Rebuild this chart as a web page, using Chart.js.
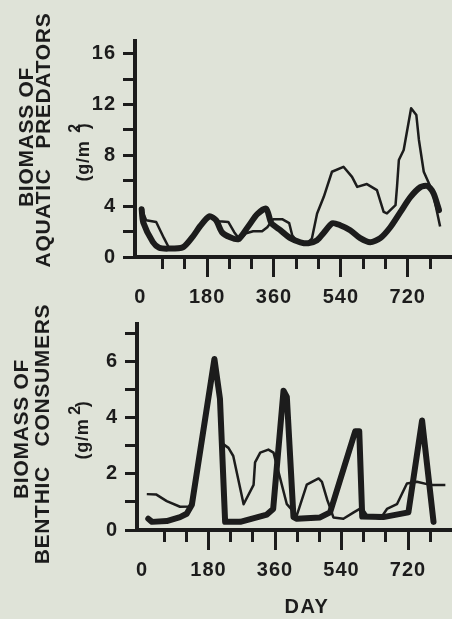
<!DOCTYPE html>
<html>
<head>
<meta charset="utf-8">
<title>Biomass</title>
<script src="https://cdn.jsdelivr.net/npm/chart.js"></script>
<style>
  html, body { margin: 0; padding: 0; background: #dfe3d8; }
  body { width: 452px; height: 619px; position: relative; overflow: hidden; }
  canvas { position: absolute; left: 0; display: block; }
  #top { top: 0; }
  #bottom { top: 305px; }
</style>
</head>
<body>
<canvas id="top" width="452" height="305"></canvas>
<canvas id="bottom" width="452" height="314"></canvas>
<script>
// valores (dia, g/m2)
const xTickLabels = [0, 180, 360, 540, 720];
const predatorTickLabels = [0, 4, 8, 12, 16];
const consumerTickLabels = [0, 2, 4, 6];

const predatorTitle = ['BIOMASS OF', 'AQUATIC   PREDATORS'];
const consumerTitle = ['BIOMASS OF', 'BENTHIC   CONSUMERS'];
const unitText = '(g/m  )';
const unitPower = '2';
const xTitle = 'DAY';

// depredadores acuaticos - linea gruesa
const predatorThickDays = [4, 8, 34, 51, 75, 115, 142, 161, 186, 204, 220, 242, 264, 291, 315, 339, 353, 377, 404, 431, 452, 476, 493, 517, 538, 565, 592, 619, 646, 673, 700, 727, 754, 773, 789, 800, 804];
const predatorThick = [3.76, 2.74, 1.18, 0.73, 0.66, 0.77, 1.63, 2.42, 3.2, 2.9, 1.95, 1.55, 1.4, 2.42, 3.37, 3.8, 2.66, 2.11, 1.48, 1.16, 1.08, 1.32, 1.87, 2.66, 2.5, 2.11, 1.48, 1.16, 1.48, 2.34, 3.53, 4.71, 5.5, 5.58, 5.03, 4.08, 3.69];

// depredadores acuaticos - linea fina
const predatorThinDays = [4, 16, 43, 64, 78, 115, 142, 161, 186, 212, 237, 253, 269, 285, 304, 328, 342, 358, 382, 401, 409, 420, 447, 462, 476, 494, 516, 547, 570, 584, 610, 637, 655, 664, 687, 691, 696, 709, 729, 743, 750, 763, 781, 790, 807];
const predatorThin = [3.76, 2.9, 2.76, 1.48, 0.69, 0.77, 1.63, 2.42, 3.2, 2.82, 2.76, 1.95, 1.32, 1.87, 2.03, 2.03, 2.34, 2.98, 2.98, 2.66, 1.71, 1.32, 1.05, 1.45, 3.43, 4.74, 6.71, 7.1, 6.31, 5.52, 5.74, 5.26, 3.55, 3.43, 4.08, 5.52, 7.63, 8.42, 11.71, 11.18, 9.21, 6.71, 5.52, 4.74, 2.4];

// consumidores bentonicos - linea gruesa
const consumerThickDays = [17, 27, 67, 103, 121, 135, 196, 211, 225, 266, 338, 355, 383, 392, 410, 419, 482, 509, 577, 588, 596, 653, 721, 758, 789];
const consumerThick = [0.4, 0.29, 0.32, 0.46, 0.58, 0.9, 6.1, 4.69, 0.29, 0.29, 0.55, 0.75, 4.97, 4.75, 0.46, 0.4, 0.45, 0.63, 3.52, 3.52, 0.48, 0.46, 0.63, 3.91, 0.29];

// consumidores bentonicos - linea fina
const consumerThinDays = [13, 38, 67, 103, 130, 136, 196, 211, 216, 234, 247, 275, 302, 306, 320, 342, 356, 374, 392, 401, 419, 446, 478, 487, 501, 509, 518, 545, 573, 595, 609, 645, 663, 690, 717, 744, 780, 821];
const consumerThin = [1.28, 1.27, 1.03, 0.83, 0.84, 0.93, 6.0, 4.6, 3.1, 2.93, 2.64, 0.92, 1.61, 2.41, 2.76, 2.87, 2.76, 1.84, 0.92, 0.79, 0.52, 1.62, 1.84, 1.72, 1.09, 0.8, 0.45, 0.4, 0.63, 0.8, 0.52, 0.4, 0.75, 0.92, 1.66, 1.72, 1.61, 1.61];

const INK = '#1c1c1c';
const FONT = '"Liberation Sans", Arial, Helvetica, sans-serif';

function points(days, values) {
    return days.map((d, i) => ({ x: d, y: values[i] }));
}

// titulos girados y "DAY"
const titlePlugin = {
    id: 'titles',
    beforeDraw(chart) {
        chart.ctx.letterSpacing = '1px';
    },
    afterDraw(chart, args, opts) {
        const ctx = chart.ctx;
        (opts.items || []).forEach(t => {
            ctx.save();
            ctx.fillStyle = INK;
            ctx.textAlign = 'center';
            ctx.textBaseline = 'middle';
            ctx.font = `bold ${t.size}px ${FONT}`;
            ctx.letterSpacing = (t.spacing ?? 0.7) + 'px';
            ctx.translate(t.x, t.y);
            if (t.rotate) ctx.rotate(-Math.PI / 2);
            ctx.fillText(t.text, 0, 0);
            ctx.restore();
        });
    }
};

function makeChart(id, cfg) {
    const tickFont = { family: FONT, size: 20, weight: 'bold' };
    return new Chart(document.getElementById(id), {
        type: 'line',
        data: {
            datasets: [
                {
                    data: points(cfg.thickDays, cfg.thick),
                    borderColor: INK,
                    borderWidth: 6,
                    borderJoinStyle: 'round',
                    borderCapStyle: 'round',
                    pointRadius: 0,
                    tension: cfg.tension
                },
                {
                    data: points(cfg.thinDays, cfg.thin),
                    borderColor: INK,
                    borderWidth: 2.5,
                    borderJoinStyle: 'round',
                    pointRadius: 0,
                    tension: 0
                }
            ]
        },
        options: {
            responsive: false,
            animation: false,
            devicePixelRatio: 1,
            layout: { padding: { top: cfg.top, left: 0, right: 0, bottom: 0 } },
            plugins: {
                legend: { display: false },
                tooltip: { enabled: false },
                titles: { items: cfg.titles }
            },
            scales: {
                x: {
                    type: 'linear',
                    min: cfg.xMin,
                    max: 839,
                    afterFit: s => { s.height = cfg.xHeight; },
                    border: { color: INK, width: 4 },
                    grid: {
                        drawOnChartArea: false,
                        tickLength: 20,
                        tickWidth: 3,
                        tickColor: c => (c.tick && c.tick.value === 0) ? 'rgba(0,0,0,0)' : INK,
                        tickBorderDash: c => (c.tick && c.tick.value % 180 === 0) ? [] : [10, 40]
                    },
                    ticks: {
                        stepSize: 60,
                        maxTicksLimit: 100,
                        includeBounds: false,
                        autoSkip: false,
                        maxRotation: 0,
                        padding: 8,
                        color: INK,
                        font: tickFont,
                        callback: v => xTickLabels.includes(v) ? String(v) : ''
                    }
                },
                y: {
                    min: 0,
                    max: cfg.yMax,
                    afterFit: s => { s.width = cfg.yWidth; },
                    border: { color: INK, width: 4 },
                    grid: {
                        drawOnChartArea: false,
                        tickLength: 12,
                        tickWidth: 3,
                        tickColor: INK
                    },
                    ticks: {
                        stepSize: cfg.yStep,
                        maxTicksLimit: 100,
                        includeBounds: false,
                        autoSkip: false,
                        padding: 7,
                        color: INK,
                        font: tickFont,
                        callback: v => cfg.yLabels.includes(v) ? String(v) : ''
                    }
                }
            }
        },
        plugins: [titlePlugin]
    });
}

makeChart('top', {
    thickDays: predatorThickDays, thick: predatorThick,
    thinDays: predatorThinDays, thin: predatorThin,
    tension: 0.25,
    top: 41, xHeight: 48, yWidth: 135,
    xMin: -14, yMax: 17, yStep: 2, yLabels: predatorTickLabels,
    titles: [
        { text: predatorTitle[0], x: 27, y: 137, size: 21, rotate: true },
        { text: predatorTitle[1], x: 44, y: 140, size: 21, rotate: true },
        { text: unitText, x: 84, y: 152, size: 18, rotate: true },
        { text: unitPower, x: 76, y: 128, size: 16, rotate: true }
    ]
});

makeChart('bottom', {
    thickDays: consumerThickDays, thick: consumerThick,
    thinDays: consumerThinDays, thin: consumerThin,
    tension: 0,
    top: 12, xHeight: 89, yWidth: 137,
    xMin: -13.5, yMax: 7.35, yStep: 1, yLabels: consumerTickLabels,
    titles: [
        { text: consumerTitle[0], x: 22, y: 124, size: 21, rotate: true },
        { text: consumerTitle[1], x: 43, y: 129, size: 21, rotate: true },
        { text: unitText, x: 83, y: 125, size: 18, rotate: true },
        { text: unitPower, x: 76, y: 105, size: 16, rotate: true },
        { text: xTitle, x: 307, y: 302, size: 20, rotate: false, spacing: 1.5 }
    ]
});
</script>
</body>
</html>
